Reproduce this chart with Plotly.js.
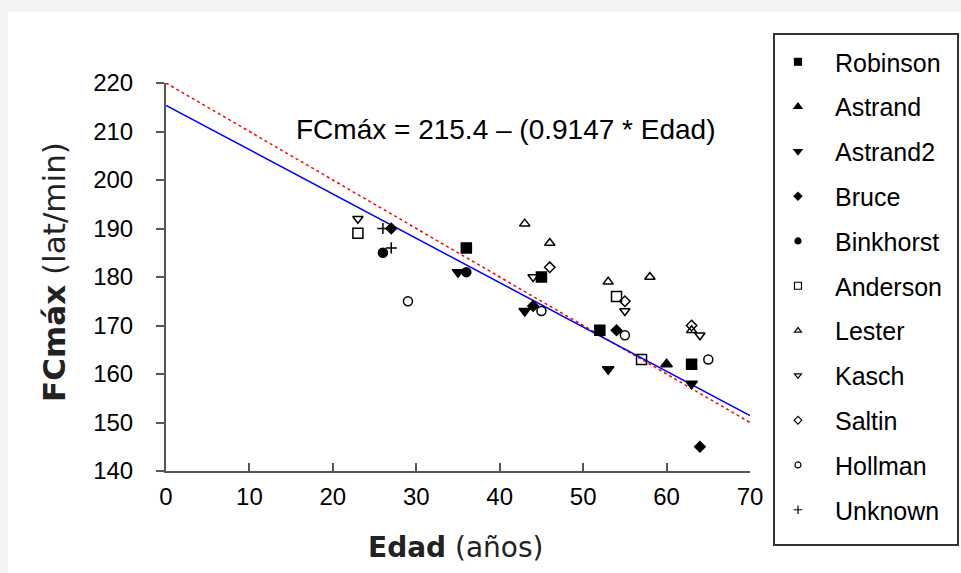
<!DOCTYPE html>
<html>
<head>
<meta charset="utf-8">
<script src="https://cdn.plot.ly/plotly-3.0.1.min.js"></script>
<style>
html,body{margin:0;padding:0;background:#f3f3f3;width:961px;height:573px;overflow:hidden;}
#chart{position:absolute;left:8px;top:12px;width:953px;height:561px;}
</style>
</head>
<body>
<div id="chart"></div>
<script>
// ---- data ----
const seriesNames = ["Robinson","Astrand","Astrand2","Bruce","Binkhorst","Anderson","Lester","Kasch","Saltin","Hollman","Unknown"];
const robinsonAge = [36, 45, 52, 63];
const robinsonFC  = [186, 180, 169, 162];
const astrandAge  = [60];
const astrandFC   = [162];
const astrand2Age = [35, 43, 53, 63];
const astrand2FC  = [181, 173, 161, 158];
const bruceAge    = [27, 44, 54, 64];
const bruceFC     = [190, 174, 169, 145];
const binkhorstAge= [26, 36];
const binkhorstFC = [185, 181];
const andersonAge = [23, 54, 57];
const andersonFC  = [189, 176, 163];
const lesterAge   = [43, 46, 53, 58, 63];
const lesterFC    = [191, 187, 179, 180, 169];
const kaschAge    = [23, 44, 55, 64];
const kaschFC     = [192, 180, 173, 168];
const saltinAge   = [46, 55, 63];
const saltinFC    = [182, 175, 170];
const hollmanAge  = [29, 45, 55, 65];
const hollmanFC   = [175, 173, 168, 163];
const unknownAge  = [26, 27];
const unknownFC   = [190, 186];

const lineAge = [0, 70];
const fitFC   = [215.4, 151.4];   // FCmáx = 215.4 – 0.9147·Edad
const ref220FC = [220, 150];      // 220 – Edad

const xTicks = [0,10,20,30,40,50,60,70];
const yTicks = [140,150,160,170,180,190,200,210,220];

// ---- styles ----
const styles = {
  Robinson:  {symbol:'square', size:10},
  Astrand:   {symbol:'triangle-up', size:10},
  Astrand2:  {symbol:'triangle-down', size:10},
  Bruce:     {symbol:'diamond', size:8},
  Binkhorst: {symbol:'circle', size:9},
  Anderson:  {symbol:'square-open', size:10},
  Lester:    {symbol:'triangle-up-open', size:9},
  Kasch:     {symbol:'triangle-down-open', size:9},
  Saltin:    {symbol:'diamond-open', size:8},
  Hollman:   {symbol:'circle-open', size:9},
  Unknown:   {symbol:'cross-thin-open', size:8}
};
const dataMap = {
  Robinson:[robinsonAge,robinsonFC], Astrand:[astrandAge,astrandFC], Astrand2:[astrand2Age,astrand2FC],
  Bruce:[bruceAge,bruceFC], Binkhorst:[binkhorstAge,binkhorstFC], Anderson:[andersonAge,andersonFC],
  Lester:[lesterAge,lesterFC], Kasch:[kaschAge,kaschFC], Saltin:[saltinAge,saltinFC],
  Hollman:[hollmanAge,hollmanFC], Unknown:[unknownAge,unknownFC]
};

const traces = [
  {x: lineAge, y: ref220FC, mode:'lines', line:{color:'#ff0000', width:1.5, dash:'dot'}, showlegend:false, hoverinfo:'skip'},
  {x: lineAge, y: fitFC, mode:'lines', line:{color:'#0000ff', width:1.5}, showlegend:false, hoverinfo:'skip'}
];
seriesNames.forEach(function(n){
  const s = styles[n];
  // plotted points
  traces.push({
    x: dataMap[n][0], y: dataMap[n][1], name: n, mode:'markers', legendgroup:n, showlegend:false,
    marker:{symbol:s.symbol, size:s.size, color:'#000000', line:{color:'#000000', width:1.5}}
  });
  // legend entry (smaller symbol, as in the reference legend)
  traces.push({
    x: [null], y: [null], name: n, mode:'markers', legendgroup:n, showlegend:true,
    marker:{symbol:s.symbol, size:Math.max(6, s.size - 3), color:'#000000', line:{color:'#000000', width:1.2}}
  });
});

const tickFont = {family:'Liberation Sans, Arial, sans-serif', size:24, color:'#000'};
const layout = {
  width:953, height:561,
  paper_bgcolor:'#ffffff', plot_bgcolor:'#ffffff',
  margin:{l:158, r:211, t:71, b:102},
  showlegend:true,
  xaxis:{range:[0,70], tickvals:xTicks, ticks:'inside', ticklen:8, tickwidth:2, tickcolor:'#555',
         showline:true, linecolor:'#555', linewidth:2, showgrid:false, zeroline:false,
         tickfont:tickFont, ticklabelstandoff:3, fixedrange:true},
  yaxis:{range:[140,220], tickvals:yTicks, ticks:'outside', ticklen:8, tickwidth:2, tickcolor:'#555',
         showline:true, linecolor:'#555', linewidth:2, showgrid:false, zeroline:false,
         tickfont:tickFont, ticklabelstandoff:18, fixedrange:true},
  legend:{x:1.0188, xanchor:'left', y:1.1134, yanchor:'top', bgcolor:'rgba(0,0,0,0)', borderwidth:0,
          font:{family:'Liberation Sans, Arial, sans-serif', size:25, color:'#000'},
          tracegroupgap:9.3, itemwidth:64, maxheight:700},
  shapes:[{type:'rect', xref:'paper', yref:'paper', x0:1.0411, x1:1.3562, y0:-0.1907, y1:1.1263,
           line:{color:'#333', width:2}, fillcolor:'rgba(0,0,0,0)', layer:'above'}],
  annotations:[
    {xref:'paper', yref:'paper', x:0.5805, y:0.8789, xanchor:'center', yanchor:'middle', showarrow:false,
     text:'FCmáx = 215.4 – (0.9147 * Edad)', font:{family:'Liberation Sans, Arial, sans-serif', size:28, color:'#000'}},
    {xref:'paper', yref:'paper', x:-0.1918, y:0.5129, xanchor:'center', yanchor:'middle', showarrow:false, textangle:-90,
     text:'<b>FCmáx</b> (lat/min)', font:{family:'DejaVu Sans, Verdana, sans-serif', size:31, color:'#222'}},
    {xref:'paper', yref:'paper', x:0.4949, y:-0.1959, xanchor:'center', yanchor:'middle', showarrow:false,
     text:'<b>Edad</b> (años)', font:{family:'DejaVu Sans, Verdana, sans-serif', size:28, color:'#222'}}
  ]
};

Plotly.newPlot('chart', traces, layout, {displayModeBar:false, staticPlot:true});
</script>
</body>
</html>
